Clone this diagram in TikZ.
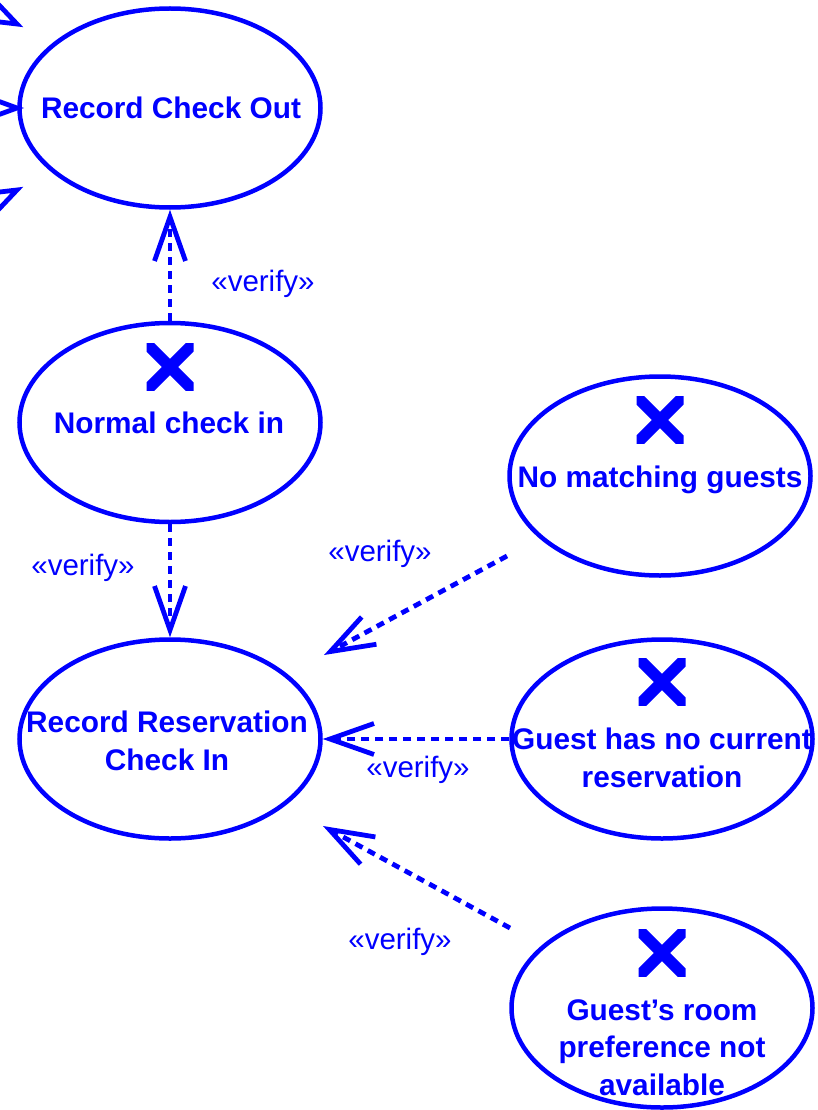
\documentclass[tikz,border=0pt]{standalone}
\usepackage{fontspec}
\setmainfont{Liberation Sans}
\usetikzlibrary{shapes.geometric,arrows.meta}
\begin{document}
\begin{tikzpicture}[x=1pt,y=1pt,
  usecase/.style={ellipse, draw=blue, line width=4.5pt, minimum width=301pt,
    minimum height=199pt, inner sep=0pt},
  uctext/.style={text=blue, font=\fontsize{29.8}{37.5}\selectfont\bfseries,
    align=center, anchor=base, inner sep=0pt},
  stereo/.style={text=blue, font=\fontsize{29.5}{35}\selectfont, inner sep=0pt},
  dependency/.style={draw=blue, line width=4.8pt, dash pattern=on 8pt off 6pt,
    -{Straight Barb[length=44pt,width=31pt]}},
  barb/.style={draw=blue, line width=4.8pt, line cap=butt, line join=miter},
  xmark/.pic={
    \begin{scope}
      \clip (-23.5,-23.5) rectangle (23.5,23.5);
      \draw[blue, line width=11.5pt] (-32,-32) -- (32,32) (-32,32) -- (32,-32);
    \end{scope}
  }
]
\useasboundingbox (0,0) rectangle (817,-1110);
\clip (0,0) rectangle (817,-1110);

% use cases
\node[usecase] (rco) at (170,-108) {};
\node[usecase] (nci) at (170,-422.5) {};
\node[usecase] (rrc) at (170,-739) {};
\node[usecase] (nmg) at (660,-476) {};
\node[usecase] (ghn) at (662,-739) {};
\node[usecase] (grp) at (662,-1008) {};

% names of the use cases (anchored on the baseline of the last line)
\node[uctext] (trco) at (171,-119) {Record Check Out};
\node[uctext] (tnci) at (169,-433) {Normal check in};
\node[uctext] (trrc) at (167,-770) {Record Reservation\\Check In};
\node[uctext] (tnmg) at (660,-487) {No matching guests};
\node[uctext] (tghn) at (662,-787) {Guest has no current\\reservation};
\node[uctext] (tgrp) at (662,-1095) {Guest’s room\\preference not\\available};

% failure marks
\pic at (170,-367) {xmark};
\pic at (660,-420) {xmark};
\pic at (662,-682) {xmark};
\pic at (662,-953) {xmark};

% free ends of the slanted dependencies
\coordinate (s3) at (507,-556);
\coordinate (e3) at (324,-655);
\coordinate (s5) at (510,-928);
\coordinate (e5) at (323,-826);

% dependencies
\draw[dependency] (nci.north) -- (rco.south);
\draw[dependency] (nci.south) -- (rrc.north);
\draw[dependency] (s3) -- (e3);
\draw[dependency] (ghn.west) -- (rrc.east);
\draw[dependency] (s5) -- (e5);

% stereotypes
\node[stereo] (v1) at (263,-284) {«verify»};
\node[stereo] (v2) at (83,-568) {«verify»};
\node[stereo] (v3) at (380,-554) {«verify»};
\node[stereo] (v4) at (418,-770) {«verify»};
\node[stereo] (v5) at (400,-942) {«verify»};

% heads of dependencies entering from the left
\coordinate (ta) at (17,-24);
\coordinate (tb) at (17,-108);
\coordinate (tc) at (17,-190);
\draw[barb] (ta) ++(173.4:47) -- (ta) -- ++(133.4:47);
\draw[barb] (tb) ++(160:47) -- (tb) -- ++(200:47);
\draw[barb] (tc) ++(186.6:47) -- (tc) -- ++(226.6:47);
\end{tikzpicture}
\end{document}
